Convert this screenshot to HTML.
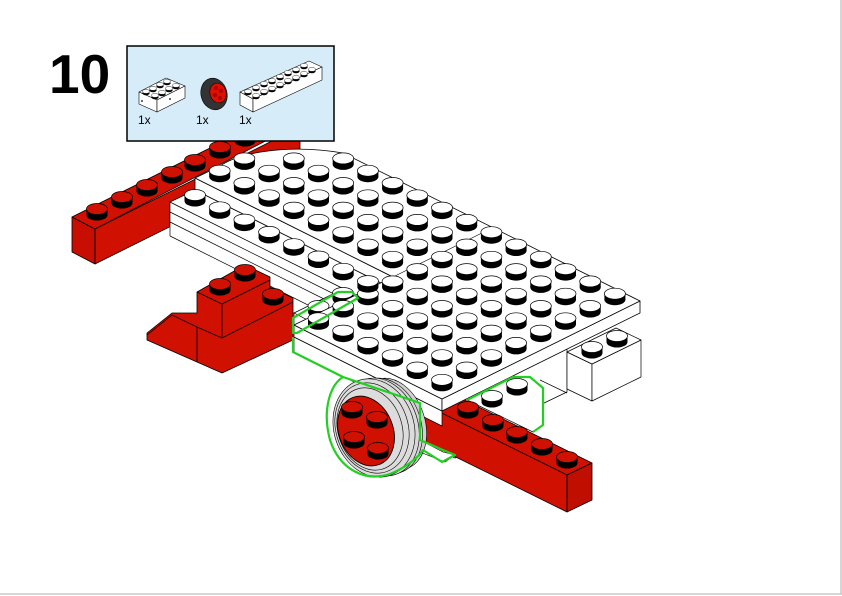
<!DOCTYPE html>
<html><head><meta charset="utf-8"><style>
html,body{margin:0;padding:0;background:#fff;}
svg{display:block;}
text{font-family:"Liberation Sans",sans-serif;}
</style></head><body>
<svg width="842" height="596" viewBox="0 0 842 596" xmlns="http://www.w3.org/2000/svg">
<defs>
<g id="s"><ellipse cx="0" cy="3" rx="10.5" ry="5.5" fill="#000"/><rect x="-10.5" y="-3" width="21" height="6" fill="#000"/><ellipse cx="0" cy="-3" rx="10.5" ry="5.5" fill="#fff" stroke="#000" stroke-width="0.7"/></g>
<g id="r"><ellipse cx="0" cy="3" rx="10.5" ry="5.5" fill="#000"/><rect x="-10.5" y="-3" width="21" height="6" fill="#000"/><ellipse cx="0" cy="-3" rx="10.5" ry="5.5" fill="#d01000" stroke="#000" stroke-width="0.7"/></g>
<g id="m"><ellipse cx="0" cy="1.2" rx="3.6" ry="2" fill="#000"/><ellipse cx="0" cy="-0.6" rx="3.6" ry="2" fill="#fff" stroke="#000" stroke-width="0.4"/></g>
</defs>
<line x1="841" y1="0" x2="841" y2="594" stroke="#c8c8c8" stroke-width="1.5"/>
<line x1="0" y1="594" x2="842" y2="594" stroke="#c8c8c8" stroke-width="1.5"/>

<!-- back red bar -->
<g stroke="#000" stroke-width="0.8" stroke-linejoin="round">
<polygon points="72,217 95,229 95,264 72,252" fill="#c80e00"/>
<polygon points="95,229 300,127 300,162 95,264" fill="#d01000"/>
<polygon points="72,217 290,108 310,118 95,229" fill="#d01000"/>
</g>
<use href="#r" x="97" y="212"/><use href="#r" x="122" y="200"/><use href="#r" x="147" y="188"/><use href="#r" x="172" y="175"/><use href="#r" x="195" y="163"/><use href="#r" x="220" y="150"/><use href="#r" x="245" y="138"/>

<!-- stuff under right plate (behind front bar) -->
<g stroke="#000" stroke-width="0.7" fill="#fff" stroke-linejoin="round">
<polygon points="442,411 567,349 567,392 540,405 540,418 455,458 442,452"/>
<line x1="540" y1="380" x2="567" y2="393"/>
<polygon points="467,400 513,377 530,377 543,388 543,425 533,432" />
</g>
<use href="#s" x="492" y="399"/><use href="#s" x="517" y="387"/>

<!-- front red bar -->
<g stroke="#000" stroke-width="0.8" stroke-linejoin="round">
<polygon points="420,378 592,463 567,475 395,390" fill="#d01000"/>
<polygon points="395,390 567,475 567,512 395,427" fill="#d01000"/>
<polygon points="567,475 592,463 592,500 567,512" fill="#c00e00"/>
</g>
<use href="#r" x="567" y="460"/><use href="#r" x="542" y="447"/><use href="#r" x="517" y="435"/><use href="#r" x="493" y="423"/><use href="#r" x="468" y="410"/>

<!-- strip front face & top -->
<g stroke="#000" stroke-width="0.7" fill="#fff">
<polygon points="170,202 368,301 368,335 170,236"/>
<line x1="170" y1="212" x2="368" y2="311"/><line x1="170" y1="222" x2="368" y2="321"/>
<polygon points="195,190 170,202 368,301 393,289"/>
<polygon points="294,313 343,289 368,301 319,326"/>
<polygon points="294,313 319,326 319,338 294,325"/>
<polygon points="294,337 442,411 442,426 294,352"/>
</g>
<use href="#s" x="343" y="296"/><use href="#s" x="318.5" y="309"/>

<!-- top plate -->
<g stroke="#000" stroke-width="0.8" fill="#fff" stroke-linejoin="round">
<polygon points="195,178 393,277 393,289 195,190"/>
<polygon points="294,325 442,399 442,411 294,337"/>
<polygon points="442,399 640,301 640,313 442,411"/>
<path d="M195,178 L220,166 C240,152 290,144 343,153 L640,301 L442,399 L294,325 L393,277 Z"/>
<line x1="393" y1="277" x2="492" y2="228" stroke-width="0.6"/>
</g>
<g>
<use href="#s" x="343.2" y="161.4"/><use href="#s" x="367.9" y="173.7"/><use href="#s" x="392.6" y="186"/><use href="#s" x="417.3" y="198.3"/><use href="#s" x="442" y="210.6"/><use href="#s" x="466.7" y="222.9"/><use href="#s" x="491.4" y="235.2"/><use href="#s" x="516.1" y="247.5"/><use href="#s" x="540.8" y="259.8"/><use href="#s" x="565.5" y="272.1"/><use href="#s" x="590.2" y="284.4"/><use href="#s" x="614.9" y="296.7"/>
<use href="#s" x="293.8" y="161.4"/><use href="#s" x="318.5" y="173.7"/><use href="#s" x="343.2" y="186"/><use href="#s" x="367.9" y="198.3"/><use href="#s" x="392.6" y="210.6"/><use href="#s" x="417.3" y="222.9"/><use href="#s" x="442" y="235.2"/><use href="#s" x="466.7" y="247.5"/><use href="#s" x="491.4" y="259.8"/><use href="#s" x="516.1" y="272.1"/><use href="#s" x="540.8" y="284.4"/><use href="#s" x="565.5" y="296.7"/><use href="#s" x="590.2" y="309"/>
<use href="#s" x="244.4" y="161.4"/><use href="#s" x="269.1" y="173.7"/><use href="#s" x="293.8" y="186"/><use href="#s" x="318.5" y="198.3"/><use href="#s" x="343.2" y="210.6"/><use href="#s" x="367.9" y="222.9"/><use href="#s" x="392.6" y="235.2"/><use href="#s" x="417.3" y="247.5"/><use href="#s" x="442" y="259.8"/><use href="#s" x="466.7" y="272.1"/><use href="#s" x="491.4" y="284.4"/><use href="#s" x="516.1" y="296.7"/><use href="#s" x="540.8" y="309"/><use href="#s" x="565.5" y="321.3"/>
<use href="#s" x="219.7" y="173.7"/><use href="#s" x="244.4" y="186"/><use href="#s" x="269.1" y="198.3"/><use href="#s" x="293.8" y="210.6"/><use href="#s" x="318.5" y="222.9"/><use href="#s" x="343.2" y="235.2"/><use href="#s" x="367.9" y="247.5"/><use href="#s" x="392.6" y="259.8"/><use href="#s" x="417.3" y="272.1"/><use href="#s" x="442" y="284.4"/><use href="#s" x="466.7" y="296.7"/><use href="#s" x="491.4" y="309"/><use href="#s" x="516.1" y="321.3"/><use href="#s" x="540.8" y="333.6"/>
<use href="#s" x="392.6" y="284.4"/><use href="#s" x="417.3" y="296.7"/><use href="#s" x="442" y="309"/><use href="#s" x="466.7" y="321.3"/><use href="#s" x="491.4" y="333.6"/><use href="#s" x="516.1" y="345.9"/>
<use href="#s" x="367.9" y="296.7"/><use href="#s" x="392.6" y="309"/><use href="#s" x="417.3" y="321.3"/><use href="#s" x="442" y="333.6"/><use href="#s" x="466.7" y="345.9"/><use href="#s" x="491.4" y="358.2"/>
<use href="#s" x="343.2" y="309"/><use href="#s" x="367.9" y="321.3"/><use href="#s" x="392.6" y="333.6"/><use href="#s" x="417.3" y="345.9"/><use href="#s" x="442" y="358.2"/><use href="#s" x="466.7" y="370.5"/>
<use href="#s" x="318.5" y="321.3"/><use href="#s" x="343.2" y="333.6"/><use href="#s" x="367.9" y="345.9"/><use href="#s" x="392.6" y="358.2"/><use href="#s" x="417.3" y="370.5"/><use href="#s" x="442" y="382.8"/>
</g>
<use href="#s" x="195" y="198"/><use href="#s" x="219.7" y="210.3"/><use href="#s" x="244.4" y="222.6"/><use href="#s" x="269.1" y="234.9"/><use href="#s" x="293.8" y="247.2"/><use href="#s" x="318.5" y="259.5"/><use href="#s" x="343.2" y="271.8"/><use href="#s" x="367.9" y="284.1"/>

<!-- middle red brick -->
<g stroke="#000" stroke-width="0.8" stroke-linejoin="round">
<polygon points="147,333 172,313 197,313 197,292 245,265 270,277 270,287 293,298 293,340 222,373 147,340" fill="#d01000"/>
<polyline points="197,292 222,304 270,280" fill="none"/>
<line x1="222" y1="304" x2="222" y2="338"/>
<polyline points="147,335 172,315 197,327 222,338 293,302" fill="none"/>
<line x1="197" y1="327" x2="197" y2="362"/>
</g>
<use href="#r" x="273" y="297"/><use href="#r" x="220" y="287"/><use href="#r" x="245" y="273"/>

<!-- right white brick -->
<g stroke="#000" stroke-width="0.7" fill="#fff" stroke-linejoin="round">
<polygon points="567,352 592,364 592,401 567,389"/>
<polygon points="592,364 641,340 641,377 592,401"/>
<polygon points="567,352 592,364 641,340 616,328"/>
</g>
<use href="#s" x="592" y="350"/><use href="#s" x="617" y="339"/>

<polygon points="420,440 443,452 455,455 445,462 420,452" fill="#fff" stroke="#000" stroke-width="0.6"/>

<!-- wheel -->
<g stroke="#000" stroke-width="0.6">
<ellipse cx="392" cy="424" rx="33" ry="47" transform="rotate(-18 392 424)" fill="#cfcfcf"/>
<ellipse cx="385" cy="426" rx="36" ry="49" transform="rotate(-18 385 426)" fill="#d4d4d4"/>
<ellipse cx="380" cy="427" rx="38" ry="50" transform="rotate(-18 380 427)" fill="#d8d8d8"/>
<ellipse cx="374" cy="428" rx="40" ry="50" transform="rotate(-18 374 428)" fill="#dcdcdc"/>
<ellipse cx="372" cy="428" rx="36" ry="46" transform="rotate(-18 372 428)" fill="none"/>
<ellipse cx="370" cy="429" rx="32" ry="42" transform="rotate(-18 370 429)" fill="none"/>
<ellipse cx="366" cy="431" rx="27" ry="36" transform="rotate(-22 366 431)" fill="#d01000" stroke-width="0.9"/>
</g>
<use href="#r" x="352" y="410"/><use href="#r" x="377" y="420"/><use href="#r" x="354" y="440"/><use href="#r" x="378" y="451"/>

<!-- green outlines -->
<g fill="none" stroke="#22d022" stroke-width="2.2" stroke-linejoin="round">
<path d="M293,333 L293,318 L338,292 L352,292 L358,298 L318,321 L297,333 Z"/>
<path d="M293,337 L293,352 L343,377 C330,385 322,410 330,440 C340,470 365,482 390,474 C405,468 418,458 423,450 L442,462 L455,455 L443,450 L420,440 L420,403 L343,377"/>
<path d="M467,400 L513,377 L530,377 L543,388 L543,425 L533,432"/>
</g>

<!-- step number & panel -->
<text x="49" y="93" font-size="55" font-weight="bold" fill="#000">10</text>
<rect x="127" y="46" width="207" height="95" fill="#d6ecf9" stroke="#000" stroke-width="1.5"/>
<g stroke="#000" stroke-width="0.6" fill="#fff" stroke-linejoin="round">
<polygon points="139,92 166,78 185,86 157,100"/>
<polygon points="139,92 157,100 157,112 139,104"/>
<polygon points="157,100 185,86 185,98 157,112"/>
<polygon points="240,92 309,61 322,67 253,99"/>
<polygon points="240,92 253,99 253,112 240,105"/>
<polygon points="253,99 322,67 322,80 253,112"/>
</g>
<use href="#m" x="146" y="92"/><use href="#m" x="153" y="89"/><use href="#m" x="160" y="85"/><use href="#m" x="167" y="82"/>
<use href="#m" x="155" y="96"/><use href="#m" x="162" y="93"/><use href="#m" x="169" y="89"/><use href="#m" x="176" y="86"/>
<circle cx="142" cy="101" r="0.9" fill="#000"/><circle cx="170" cy="99" r="0.9" fill="#000"/>
<use href="#m" x="248" y="92"/><use href="#m" x="256" y="88"/><use href="#m" x="264" y="84"/><use href="#m" x="272" y="81"/><use href="#m" x="280" y="77"/><use href="#m" x="288" y="73"/><use href="#m" x="296" y="70"/><use href="#m" x="304" y="66"/>
<use href="#m" x="256" y="96"/><use href="#m" x="264" y="92"/><use href="#m" x="272" y="89"/><use href="#m" x="280" y="85"/><use href="#m" x="288" y="81"/><use href="#m" x="296" y="78"/><use href="#m" x="304" y="74"/><use href="#m" x="312" y="70"/>
<ellipse cx="214" cy="94" rx="13" ry="16" transform="rotate(-15 214 94)" fill="#333" stroke="#000" stroke-width="0.6"/>
<ellipse cx="218" cy="93" rx="8" ry="10" transform="rotate(-15 218 93)" fill="#e01000" stroke="#000" stroke-width="0.5"/>
<circle cx="216" cy="88" r="2.2" fill="#b00000"/><circle cx="221" cy="91" r="2.2" fill="#b00000"/><circle cx="215" cy="95" r="2.2" fill="#b00000"/><circle cx="220" cy="98" r="2.2" fill="#b00000"/>
<text x="138" y="124" font-size="12" fill="#000">1x</text>
<text x="196" y="124" font-size="12" fill="#000">1x</text>
<text x="239" y="124" font-size="12" fill="#000">1x</text>
</svg>
</body></html>
